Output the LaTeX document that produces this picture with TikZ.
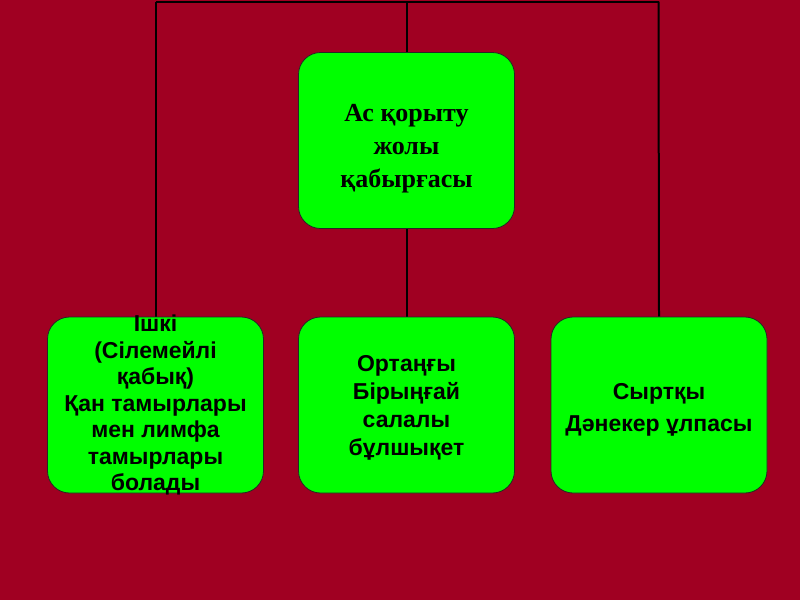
\documentclass[tikz,border=0pt]{standalone}
\usepackage{fontspec}
\usetikzlibrary{backgrounds}
\setmainfont{Liberation Serif}
\setsansfont{Liberation Sans}
\definecolor{bgred}{RGB}{160,0,34}
\definecolor{boxgreen}{RGB}{0,255,0}
\begin{document}
\begin{tikzpicture}[x=1pt,y=-1pt,
  box/.style={draw=black!85, line width=0.8pt, fill=boxgreen, rounded corners=22pt,
    minimum width=216pt, minimum height=176pt, align=center, inner sep=0pt, text=black},
  serifbox/.style={box, font=\rmfamily\bfseries\fontsize{26}{33}\selectfont},
  sansbox/.style={box, font=\sffamily\bfseries\fontsize{23}{#1}\selectfont},
  link/.style={line width=2pt, black}]
\useasboundingbox (0,0) rectangle (800,600);
\coordinate (tl) at (155.5,1.5);
\coordinate (tm) at (406.5,1.5);
\coordinate (tr) at (658.5,1.5);
\node[serifbox] (wall) at (406.5,140.5) {\rule{0pt}{33pt}Ас қорыту\\жолы\\қабырғасы};
\node[sansbox=26.5, inner ysep=-12pt] (inner) at (155.5,405) {Ішкі\\(Сілемейлі\\қабық)\\Қан тамырлары\\мен лимфа\\тамырлары\\болады};
\node[sansbox=28] (middle) at (406.5,405) {\rule{0pt}{21.5pt}Ортаңғы\\Бірыңғай\\салалы\\бұлшықет};
\node[sansbox=32] (outer) at (659,405) {\rule{0pt}{25pt}Сыртқы\\Дәнекер ұлпасы};
\begin{scope}[on background layer]
\fill[bgred] (0,0) rectangle (800,600);
\draw[link] (tl) -- (tr);
\draw[link] (tm) -- (wall.north);
\draw[link] (wall.south) -- (middle.north);
\draw[link] (tl) -- (inner.north);
\draw[link] (tr) -- (outer.north);
\end{scope}
\end{tikzpicture}
\end{document}
